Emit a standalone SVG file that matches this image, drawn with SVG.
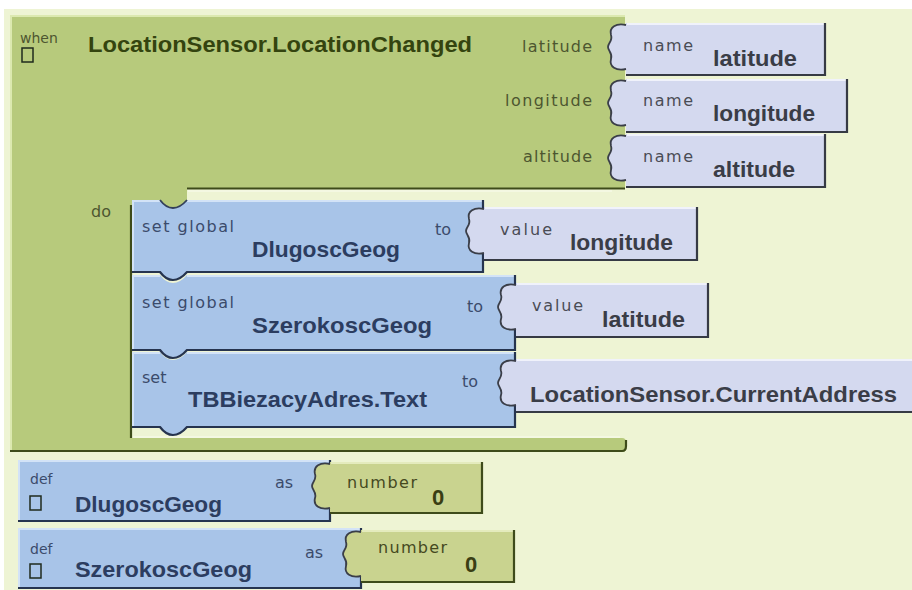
<svg xmlns="http://www.w3.org/2000/svg" width="912" height="590" viewBox="0 0 912 590">
<style>
.green{fill:#b7ca7c}
.blue{fill:#a8c4e8}
.lav{fill:#d4d9ef}
.num{fill:#c9d38f}
.hlg{fill:none;stroke:#dce9b0;stroke-width:2}
.hlb{fill:none;stroke:#d3e3f7;stroke-width:2}
.hll{fill:none;stroke:#f0f2fb;stroke-width:2}
.hln{fill:none;stroke:#e4ebbd;stroke-width:2}
.dkg{fill:none;stroke:#3e4b1a;stroke-width:2.2}
.dkb{fill:none;stroke:#26344f;stroke-width:2.2}
.dkl{fill:none;stroke:#363a44;stroke-width:2.2}
.nt{fill:none;stroke:#33405a;stroke-width:1.8}
.brk{fill:none;stroke:#3a3e48;stroke-width:1.8}
.cb{fill:none;stroke:#1f2a1c;stroke-width:1.5}
.s{font-family:"DejaVu Sans",sans-serif;font-size:16px}
.xs{font-family:"DejaVu Sans",sans-serif;font-size:14px}
.b{font-family:"Liberation Sans",Arial,sans-serif;font-weight:bold;font-size:22px}
.cg{fill:#4d5630}
.ct{fill:#34440f}
.cbs{fill:#3b4b6b}
.cbb{fill:#2c3d60}
.cls{fill:#4a4c55}
.clb{fill:#3a3d47}
.cns{fill:#45491f}
.cnb{fill:#3a3e14}
</style>
<defs>
<path id="brk" d="M0,46 C-10,48 -17,44 -15,36 C-13,30 -18,28 -18,24 C-18,20 -13,18 -15,12 C-17,4 -10,0 0,2"/>
</defs>
<rect x="0" y="0" width="912" height="590" fill="#ffffff"/>
<rect x="4" y="9" width="908" height="581" fill="#eef4d4"/>

<g id="event-block">
<path class="green" d="M10,15 H625 V188 H187 V208 H132 V438 H622 Q626,438 626,442 V449 Q626,452 622,452 H10 Z"/>
<path class="hlg" d="M11,452 V16 H625"/>
<path class="dkg" d="M187,188.5 H625"/>
<path class="dkg" d="M131,205 V438"/>
<path class="dkg" d="M10,451 H622 Q626,451 626,446 V440"/>
<path fill="none" stroke="#f6f9e6" stroke-width="1.5" d="M188,191 H612 M133,437 H620"/>
<text class="xs cg" x="20" y="43">when</text>
<rect class="cb" x="22" y="48" width="11" height="14"/>
<text class="b ct" x="88" y="52" textLength="384" lengthAdjust="spacingAndGlyphs">LocationSensor.LocationChanged</text>
<text class="s cg" x="522" y="52" textLength="70">latitude</text>
<text class="s cg" x="505" y="106" textLength="87">longitude</text>
<text class="s cg" x="523" y="162" textLength="69">altitude</text>
<text class="s cg" x="91" y="217">do</text>
</g>

<g id="name-latitude">
<path class="lav" d="M626,23 H825 V75 H626 V69 C616,71 609,67 611,59 C613,53 608,51 608,47 C608,43 613,41 611,35 C609,27 616,23 626,25 Z"/>
<path class="hll" d="M627,24 H824"/>
<path class="dkl" d="M825,23 V75 H626"/>
<use href="#brk" class="brk" transform="translate(626,23)"/>
<text class="s cls" x="643" y="51" textLength="50">name</text>
<text class="b clb" x="713" y="66" textLength="84" lengthAdjust="spacingAndGlyphs">latitude</text>
</g>

<g id="name-longitude">
<path class="lav" d="M626,79 H847 V132 H626 V125 C616,127 609,123 611,115 C613,109 608,107 608,103 C608,99 613,97 611,91 C609,83 616,79 626,81 Z"/>
<path class="hll" d="M627,80 H846"/>
<path class="dkl" d="M847,79 V132 H626"/>
<use href="#brk" class="brk" transform="translate(626,79)"/>
<text class="s cls" x="643" y="106" textLength="50">name</text>
<text class="b clb" x="713" y="121" textLength="102" lengthAdjust="spacingAndGlyphs">longitude</text>
</g>

<g id="name-altitude">
<path class="lav" d="M626,134 H825 V187 H626 V180 C616,182 609,178 611,170 C613,164 608,162 608,158 C608,154 613,152 611,146 C609,138 616,134 626,136 Z"/>
<path class="hll" d="M627,135 H824"/>
<path class="dkl" d="M825,134 V187 H626"/>
<use href="#brk" class="brk" transform="translate(626,134)"/>
<text class="s cls" x="643" y="162" textLength="50">name</text>
<text class="b clb" x="713" y="177" textLength="82" lengthAdjust="spacingAndGlyphs">altitude</text>
</g>

<g id="set-address">
<path class="blue" d="M132,352 H160 Q166,360 173,360 Q180,360 187,352 H515 V427 H187 Q180,435 173,435 Q166,435 160,427 H132 Z"/>
<path class="hlb" d="M133,426 V353 H160 M187,353 H514"/>
<path class="dkb" d="M515,352 V427 H187 Q180,435 173,435 Q166,435 160,427 H132"/>
<text class="s cbs" x="142" y="383">set</text>
<text class="b cbb" x="188" y="407" textLength="239" lengthAdjust="spacingAndGlyphs">TBBiezacyAdres.Text</text>
<text class="s cbs" x="462" y="387">to</text>
</g>

<g id="set-szerokosc">
<path class="blue" d="M132,275 H160 Q166,283 173,283 Q180,283 187,275 H515 V350 H187 Q180,358 173,358 Q166,358 160,350 H132 Z"/>
<path class="hlb" d="M133,349 V276 H160 M187,276 H514"/>
<path class="dkb" d="M515,275 V350 H187 Q180,358 173,358 Q166,358 160,350 H132"/>
<text class="s cbs" x="142" y="308" textLength="92">set global</text>
<text class="b cbb" x="252" y="333" textLength="180" lengthAdjust="spacingAndGlyphs">SzerokoscGeog</text>
<text class="s cbs" x="467" y="312">to</text>
</g>

<g id="set-dlugosc">
<path class="blue" d="M132,200 H160 Q166,208 173,208 Q180,208 187,200 H483 V272 H187 Q180,280 173,280 Q166,280 160,272 H132 Z"/>
<path class="hlb" d="M133,271 V201 H160 M187,201 H482"/>
<path class="nt" d="M160,200 Q166,208 173,208 Q180,208 187,200"/>
<path class="dkb" d="M483,200 V272 H187 Q180,280 173,280 Q166,280 160,272 H132"/>
<text class="s cbs" x="142" y="232" textLength="92">set global</text>
<text class="b cbb" x="252" y="257" textLength="148" lengthAdjust="spacingAndGlyphs">DlugoscGeog</text>
<text class="s cbs" x="435" y="235">to</text>
</g>

<g id="value-longitude">
<path class="lav" d="M484,207 H697 V260 H484 V253 C474,255 467,251 469,243 C471,237 466,235 466,231 C466,227 471,225 469,219 C467,211 474,207 484,209 Z"/>
<path class="hll" d="M485,208 H696"/>
<path class="dkl" d="M697,207 V260 H484"/>
<use href="#brk" class="brk" transform="translate(484,207)"/>
<text class="s cls" x="500" y="235" textLength="52">value</text>
<text class="b clb" x="570" y="250" textLength="103" lengthAdjust="spacingAndGlyphs">longitude</text>
</g>

<g id="value-latitude">
<path class="lav" d="M516,283 H708 V337 H516 V329 C506,331 499,327 501,319 C503,313 498,311 498,307 C498,303 503,301 501,295 C499,287 506,283 516,285 Z"/>
<path class="hll" d="M517,284 H707"/>
<path class="dkl" d="M708,283 V337 H516"/>
<use href="#brk" class="brk" transform="translate(516,283)"/>
<text class="s cls" x="532" y="311" textLength="51">value</text>
<text class="b clb" x="602" y="327" textLength="83" lengthAdjust="spacingAndGlyphs">latitude</text>
</g>

<g id="current-address">
<path class="lav" d="M516,359 H912 V412 H516 V405 C506,407 499,403 501,395 C503,389 498,387 498,383 C498,379 503,377 501,371 C499,363 506,359 516,361 Z"/>
<path class="hll" d="M517,360 H912"/>
<path class="dkl" d="M516,412 H912"/>
<use href="#brk" class="brk" transform="translate(516,359)"/>
<text class="b clb" x="530" y="402" textLength="367" lengthAdjust="spacingAndGlyphs">LocationSensor.CurrentAddress</text>
</g>

<g id="def-dlugosc">
<rect class="blue" x="18" y="460" width="312" height="61"/>
<path class="hlb" d="M19,520 V461 H329"/>
<path class="dkb" d="M330,460 V521 H18"/>
<text class="xs cbs" x="30" y="484">def</text>
<rect class="cb" x="30" y="496" width="11" height="14"/>
<text class="b cbb" x="75" y="512" textLength="147" lengthAdjust="spacingAndGlyphs">DlugoscGeog</text>
<text class="s cbs" x="275" y="488">as</text>
</g>

<g id="number-1">
<path class="num" d="M330,462 H482 V513 H330 V508 C320,510 313,506 315,498 C317,492 312,490 312,486 C312,482 317,480 315,474 C313,466 320,462 330,464 Z"/>
<path class="hln" d="M331,463 H481"/>
<path class="dkg" d="M482,462 V513 H330"/>
<use href="#brk" class="brk" transform="translate(330,462)"/>
<text class="s cns" x="347" y="488" textLength="70">number</text>
<text class="b cnb" x="432" y="505" font-size="21">0</text>
</g>

<g id="def-szerokosc">
<rect class="blue" x="18" y="528" width="343" height="60"/>
<path class="hlb" d="M19,587 V529 H360"/>
<path class="dkb" d="M361,528 V588 H18"/>
<text class="xs cbs" x="30" y="554">def</text>
<rect class="cb" x="30" y="564" width="11" height="14"/>
<text class="b cbb" x="75" y="577" textLength="177" lengthAdjust="spacingAndGlyphs">SzerokoscGeog</text>
<text class="s cbs" x="305" y="558">as</text>
</g>

<g id="number-2">
<path class="num" d="M361,530 H514 V582 H361 V576 C351,578 344,574 346,566 C348,560 343,558 343,554 C343,550 348,548 346,542 C344,534 351,530 361,532 Z"/>
<path class="hln" d="M362,531 H513"/>
<path class="dkg" d="M514,530 V582 H361"/>
<use href="#brk" class="brk" transform="translate(361,530)"/>
<text class="s cns" x="378" y="553" textLength="69">number</text>
<text class="b cnb" x="465" y="572" font-size="21">0</text>
</g>

<g id="connectors"/>
</svg>
